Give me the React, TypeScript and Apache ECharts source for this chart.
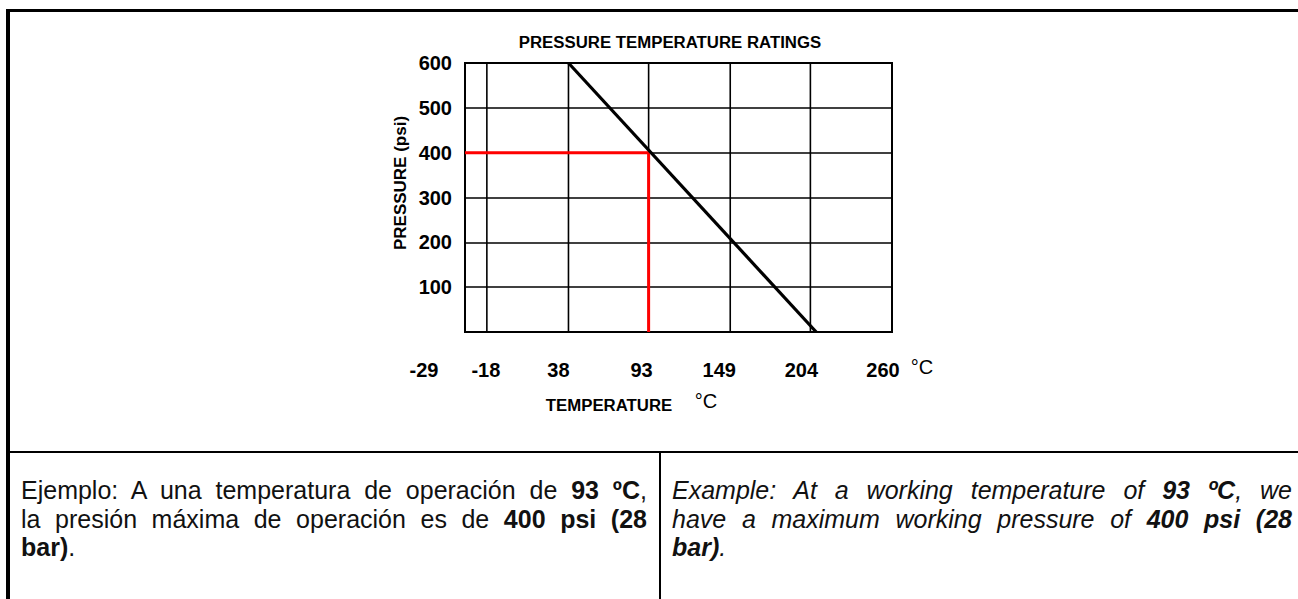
import React, { useEffect, useRef } from "react";
import * as echarts from "echarts";

// ---------- data ----------
const TITLE = "PRESSURE TEMPERATURE RATINGS";
const Y_NAME = "PRESSURE (psi)";
const X_NAME = "TEMPERATURE";
const UNIT = "°C";

const X_MIN = -33; // left edge of the plot (labelled -29)
const X_MAX = 260;
const X_TICK_VALUES = [-33, -18, 38, 93, 149, 204, 260];
const X_TICK_LABELS = ["-29", "-18", "38", "93", "149", "204", "260"];
const X_GRID_VALUES = [-18, 38, 93, 149, 204];

const Y_MIN = 0;
const Y_MAX = 600;
const Y_STEP = 100;

const RATING_TEMPS = [38, 208];
const RATING_PRESSURES = [600, 0];

const EXAMPLE_TEMP = 93;
const EXAMPLE_PRESSURE = 400;

// ---------- styles ----------
const FONT = "'Liberation Sans', Arial, sans-serif";
const LABEL_SHIFT = [41, 1, 10, 7, 11, 9, 9];

function buildOption(): echarts.EChartsCoreOption {
  const rich: Record<string, any> = {};
  LABEL_SHIFT.forEach((s, i) => {
    rich["s" + i] = {
      padding: [0, 2 * s, 0, 0],
      fontSize: 20,
      fontWeight: "bold",
      fontFamily: FONT,
      color: "#000",
    };
  });

  const gridSeries = X_GRID_VALUES.map((t) => ({
    type: "line",
    silent: true,
    symbol: "none",
    z: 1,
    lineStyle: { color: "#000", width: 1.6 },
    data: [
      [t, Y_MIN],
      [t, Y_MAX],
    ],
  }));

  return {
    animation: false,
    backgroundColor: "#fff",
    grid: {
      left: 465,
      top: 63,
      width: 427,
      height: 269,
      show: true,
      borderColor: "#000",
      borderWidth: 2,
      containLabel: false,
    },
    xAxis: {
      type: "value",
      min: X_MIN,
      max: X_MAX,
      axisLine: { show: false },
      axisTick: { show: false },
      splitLine: { show: false },
      axisLabel: {
        customValues: X_TICK_VALUES,
        margin: 28,
        showMinLabel: true,
        showMaxLabel: true,
        formatter: (v: number) => {
          let best = 0;
          X_TICK_VALUES.forEach((tv, i) => {
            if (Math.abs(tv - v) < Math.abs(X_TICK_VALUES[best] - v)) best = i;
          });
          return `{s${best}|${X_TICK_LABELS[best]}}`;
        },
        rich,
      },
    },
    yAxis: {
      type: "value",
      min: Y_MIN,
      max: Y_MAX,
      interval: Y_STEP,
      axisLine: { show: false },
      axisTick: { show: false },
      splitLine: { show: true, lineStyle: { color: "#000", width: 1.6 } },
      axisLabel: {
        margin: 13,
        fontSize: 20,
        fontWeight: "bold",
        fontFamily: FONT,
        color: "#000",
        formatter: (v: number) => (v === 0 ? "" : String(v)),
      },
    },
    graphic: [
      {
        type: "text",
        x: 670,
        y: 42,
        style: {
          text: TITLE,
          fontSize: 16.8,
          fontWeight: "bold",
          fontFamily: FONT,
          fill: "#000",
          align: "center",
          verticalAlign: "middle",
        },
      },
      {
        type: "text",
        x: 400,
        y: 183,
        rotation: Math.PI / 2,
        style: {
          text: Y_NAME,
          fontSize: 17,
          fontWeight: "bold",
          fontFamily: FONT,
          fill: "#000",
          align: "center",
          verticalAlign: "middle",
        },
      },
      {
        type: "text",
        x: 609,
        y: 405,
        style: {
          text: X_NAME,
          fontSize: 16.8,
          fontWeight: "bold",
          fontFamily: FONT,
          fill: "#000",
          align: "center",
          verticalAlign: "middle",
        },
      },
      {
        type: "text",
        x: 706,
        y: 401,
        style: {
          text: UNIT,
          fontSize: 20,
          fontFamily: FONT,
          fill: "#000",
          align: "center",
          verticalAlign: "middle",
        },
      },
      {
        type: "text",
        x: 922,
        y: 367,
        style: {
          text: UNIT,
          fontSize: 20,
          fontFamily: FONT,
          fill: "#000",
          align: "center",
          verticalAlign: "middle",
        },
      },
    ],
    series: [
      ...gridSeries,
      {
        type: "line",
        name: "example",
        symbol: "none",
        z: 3,
        lineStyle: { color: "#ff0000", width: 3 },
        data: [
          [X_MIN, EXAMPLE_PRESSURE],
          [EXAMPLE_TEMP, EXAMPLE_PRESSURE],
          [EXAMPLE_TEMP, Y_MIN],
        ],
      },
      {
        type: "line",
        name: "rating",
        symbol: "none",
        z: 4,
        lineStyle: { color: "#000", width: 3.2 },
        data: RATING_TEMPS.map((t, i) => [t, RATING_PRESSURES[i]]),
      },
    ],
  };
}

const textFont: React.CSSProperties = {
  fontFamily: FONT,
  fontSize: 25,
  color: "#111",
};

function Line({
  children,
  justify,
  italic,
}: {
  children: React.ReactNode;
  justify: boolean;
  italic?: boolean;
}) {
  return (
    <div
      style={{
        ...textFont,
        fontStyle: italic ? "italic" : "normal",
        whiteSpace: "nowrap",
        textAlign: justify ? "justify" : "left",
        textAlignLast: justify ? "justify" : "left",
        height: 28.5,
        lineHeight: "28.5px",
      }}
    >
      {children}
    </div>
  );
}

export default function App() {
  const ref = useRef<HTMLDivElement>(null);
  useEffect(() => {
    if (!ref.current) return;
    const chart = echarts.init(ref.current, null, { renderer: "svg" });
    chart.setOption(buildOption());
    return () => chart.dispose();
  }, []);

  const black = "#000";
  return (
    <div
      style={{
        position: "absolute",
        left: 0,
        top: 0,
        width: 1298,
        height: 599,
        background: "#fff",
        overflow: "hidden",
      }}
    >
      <div
        ref={ref}
        style={{ position: "absolute", left: 0, top: 0, width: 1298, height: 451 }}
      />
      {/* table borders */}
      <div style={{ position: "absolute", left: 6, top: 9, width: 1292, height: 3, background: black }} />
      <div style={{ position: "absolute", left: 6, top: 9, width: 4, height: 590, background: black }} />
      <div style={{ position: "absolute", left: 6, top: 451, width: 1292, height: 2, background: black }} />
      <div style={{ position: "absolute", left: 659, top: 451, width: 2, height: 148, background: black }} />

      {/* Spanish text */}
      <div style={{ position: "absolute", left: 21, top: 476, width: 626 }}>
        <Line justify>
          Ejemplo: A una temperatura de operación de <b>93 ºC</b>,
        </Line>
        <Line justify>
          la presión máxima de operación es de <b>400 psi (28</b>
        </Line>
        <Line justify={false}>
          <b>bar)</b>.
        </Line>
      </div>

      {/* English text */}
      <div style={{ position: "absolute", left: 672, top: 476, width: 620 }}>
        <Line justify italic>
          Example: At a working temperature of <b>93 ºC</b>, we
        </Line>
        <Line justify italic>
          have a maximum working pressure of <b>400 psi (28</b>
        </Line>
        <Line justify={false} italic>
          <b>bar)</b>.
        </Line>
      </div>
    </div>
  );
}
